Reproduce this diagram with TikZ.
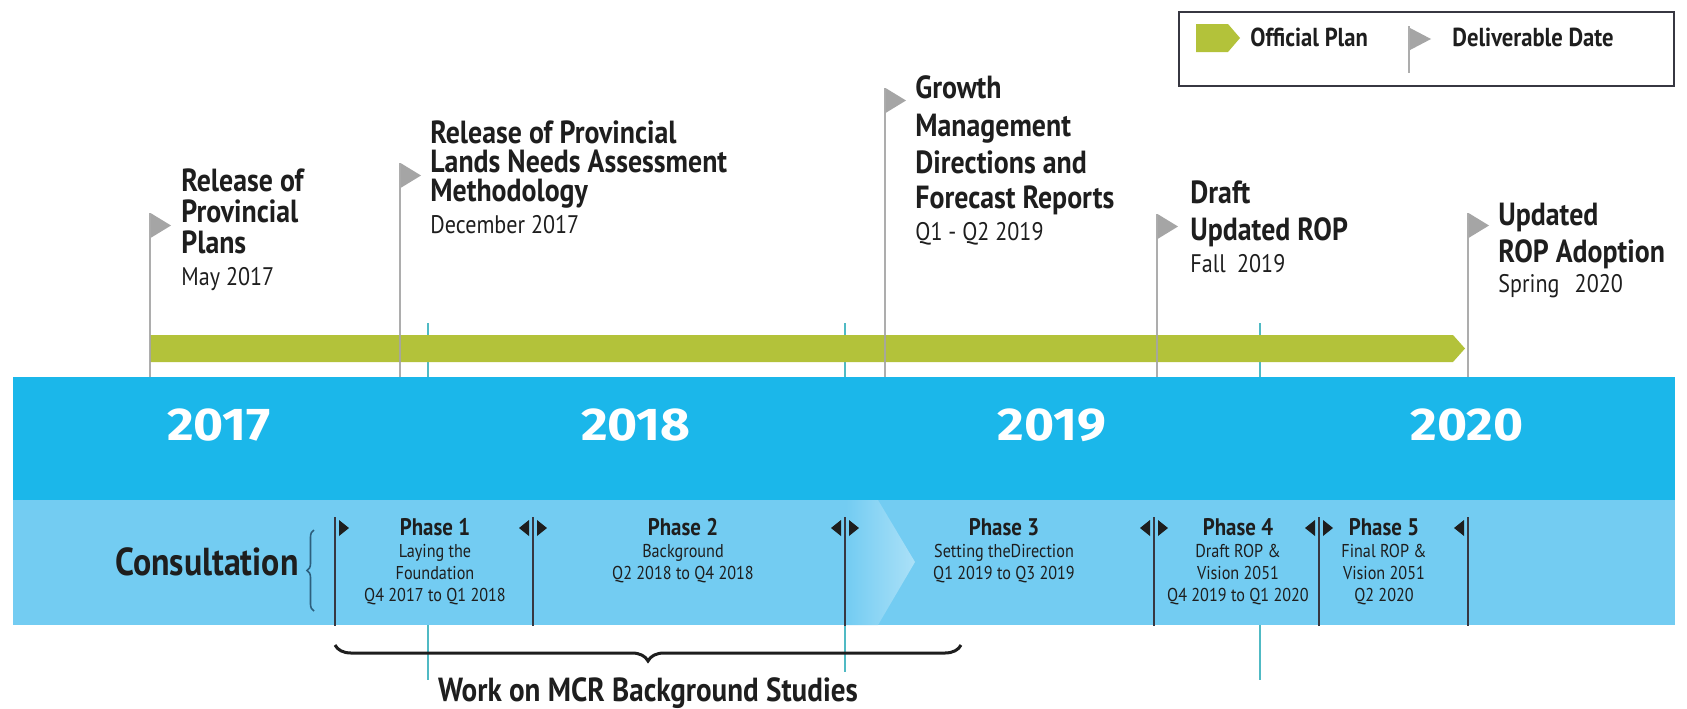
\documentclass[tikz,border=0pt]{standalone}
\usepackage{fontspec}
\usetikzlibrary{decorations.pathreplacing}
\newfontfamily\condfont{PT Sans}[FakeStretch=0.87]
\newfontfamily\yearfam{Fira Sans}[FakeStretch=1.12]
\definecolor{bandblue}{RGB}{27,183,234}
\definecolor{lightblue}{RGB}{115,204,242}
\definecolor{olivebar}{RGB}{179,194,58}
\definecolor{flaggray}{RGB}{165,165,165}
\definecolor{tealline}{RGB}{80,186,196}
\definecolor{ink}{RGB}{30,30,30}
\definecolor{sepline}{RGB}{55,55,65}
\definecolor{bracecol}{RGB}{45,95,125}
\newcommand\ttlfont{\condfont\bfseries\fontsize{16}{18}\selectfont}
\newcommand\datefont{\condfont\fontsize{12.7}{14}\selectfont}
\newcommand\phfont{\condfont\bfseries\fontsize{12}{14}\selectfont}
\newcommand\phsfont{\condfont\fontsize{9.3}{11}\selectfont}
\newcommand\yrfont{\yearfam\bfseries\fontsize{23}{26}\selectfont}
\newcommand\legfont{\condfont\bfseries\fontsize{13}{15}\selectfont}
\begin{document}
\begin{tikzpicture}[x=0.5pt,y=-0.5pt,
  ttl/.style={anchor=base west, inner sep=0pt, text=ink, font=\ttlfont},
  dte/.style={anchor=base west, inner sep=0pt, text=ink, font=\datefont},
  yr/.style={anchor=base, inner sep=0pt, text=white, font=\yrfont},
  ph/.style={anchor=base, inner sep=0pt, text=ink, font=\phfont},
  phs/.style={anchor=base, inner sep=0pt, text=ink, font=\phsfont},
  leg/.style={anchor=base west, inner sep=0pt, text=ink, font=\legfont},
  pole/.style={draw=flaggray, line width=1pt, opacity=0.9},
  flagtri/.style={fill=flaggray},
  sepln/.style={draw=sepline, line width=1pt},
  tri/.style={fill=ink},
  tealln/.style={draw=tealline, line width=0.6pt},
]
\useasboundingbox (0,0) rectangle (1687,708);
\fill[white] (0,0) rectangle (1687,708);

% bands
\fill[bandblue] (13,377) rectangle (1675,500);
\fill[lightblue] (13,500) rectangle (1675,625);
\shade[left color=lightblue, right color=white!40!lightblue]
  (846,500) -- (878,500) -- (915,562) -- (878,625) -- (846,625) -- cycle;

% teal quarter lines
\foreach \x/\e in {428/680,845/672,1260/680}{
  \draw[tealln] (\x,323) -- (\x,377);
  \draw[tealln] (\x,625) -- (\x,\e);
}

% official plan bar
\fill[olivebar] (150,335) -- (1453,335) -- (1465,348.5) -- (1453,362) -- (150,362) -- cycle;

% deliverable flags
\foreach \x/\t in {150/213,400/163,885/88,1157/214,1468/213}{
  \draw[pole] (\x,\t) -- (\x,377);
  \fill[flagtri] (\x+0.5,\t) -- (\x+21,\t+12.5) -- (\x+0.5,\t+25) -- cycle;
}

% flag texts
\node[ttl] (f1a) at (181,191) {Release of};
\node[ttl] (f1b) at (181,222) {Provincial};
\node[ttl] (f1c) at (181,253) {Plans};
\node[dte] (f1d) at (181,285) {May 2017};

\node[ttl] (f2a) at (430,143) {Release of Provincial};
\node[ttl] (f2b) at (430,172) {Lands Needs Assessment};
\node[ttl] (f2c) at (430,201) {Methodology};
\node[dte] (f2d) at (430,233) {December 2017};

\node[ttl] (f3a) at (915,98) {Growth};
\node[ttl] (f3b) at (915,136) {Management};
\node[ttl] (f3c) at (915,173) {Directions and};
\node[ttl] (f3d) at (915,208) {Forecast Reports};
\node[dte] (f3e) at (915,240) {Q1 - Q2 2019};

\node[ttl] (f4a) at (1190,203) {Draft};
\node[ttl] (f4b) at (1190,240) {Updated ROP};
\node[dte] (f4c) at (1190,272) {Fall\hspace{0.45em}2019};

\node[ttl] (f5a) at (1498,225) {Updated};
\node[ttl] (f5b) at (1498,262) {ROP Adoption};
\node[dte] (f5c) at (1498,292) {Spring\hspace{0.6em}2020};

% years
\node[yr] (y17) at (219,440) {2017};
\node[yr] (y18) at (636,440) {2018};
\node[yr] (y19) at (1052,440) {2019};
\node[yr] (y20) at (1467,440) {2020};

% consultation
\node[anchor=base east, inner sep=0pt, text=ink, font=\condfont\bfseries\fontsize{19.5}{22}\selectfont] (cons) at (299,575) {Consultation};
\draw[bracecol, line width=0.8pt, decorate, decoration={brace, amplitude=3.5pt}] (314,611) -- (314,530);

% phase separators and markers
\foreach \x in {335,533,845,1154,1319,1468}{
  \draw[sepln] (\x,517) -- (\x,626);
}
\foreach \x in {335,533,845,1154,1319}{
  \fill[tri] (\x+4,520) -- (\x+14,528) -- (\x+4,536) -- cycle;
}
\foreach \x in {533,845,1154,1319,1468}{
  \fill[tri] (\x-4,520) -- (\x-14,528) -- (\x-4,536) -- cycle;
}

% phase texts
\node[ph] (p1a) at (435,535) {Phase 1};
\node[phs] (p1b) at (435,557) {Laying the};
\node[phs] (p1c) at (435,579) {Foundation};
\node[phs] (p1d) at (435,601) {Q4 2017 to Q1 2018};

\node[ph] (p2a) at (683,535) {Phase 2};
\node[phs] (p2b) at (683,557) {Background};
\node[phs] (p2c) at (683,579) {Q2 2018 to Q4 2018};

\node[ph] (p3a) at (1004,535) {Phase 3};
\node[phs] (p3b) at (1004,557) {Setting theDirection};
\node[phs] (p3c) at (1004,579) {Q1 2019 to Q3 2019};

\node[ph] (p4a) at (1238,535) {Phase 4};
\node[phs] (p4b) at (1238,557) {Draft ROP \&};
\node[phs] (p4c) at (1238,579) {Vision 2051};
\node[phs] (p4d) at (1238,601) {Q4 2019 to Q1 2020};

\node[ph] (p5a) at (1384,535) {Phase 5};
\node[phs] (p5b) at (1384,557) {Final ROP \&};
\node[phs] (p5c) at (1384,579) {Vision 2051};
\node[phs] (p5d) at (1384,601) {Q2 2020};

% background studies brace
\coordinate (bl) at (335,645);
\coordinate (br) at (961,645);
\draw[ink, line width=1.5pt, decorate, decoration={brace, amplitude=8pt}] (br) -- (bl);
\node[anchor=base, inner sep=0pt, text=ink, font=\condfont\bfseries\fontsize{16.7}{19}\selectfont] (work) at (648,701) {Work on MCR Background Studies};

% legend
\draw[sepline, line width=1pt] (1179,12) rectangle (1674,86);
\fill[olivebar] (1196,24) -- (1228,24) -- (1240,38) -- (1228,52) -- (1196,52) -- cycle;
\node[leg] (lg1) at (1250,46) {Official Plan};
\draw[pole] (1409,26) -- (1409,73);
\fill[flagtri] (1410,28) -- (1431,39) -- (1410,50) -- cycle;
\node[leg] (lg2) at (1452,46) {Deliverable Date};
\end{tikzpicture}
\end{document}
